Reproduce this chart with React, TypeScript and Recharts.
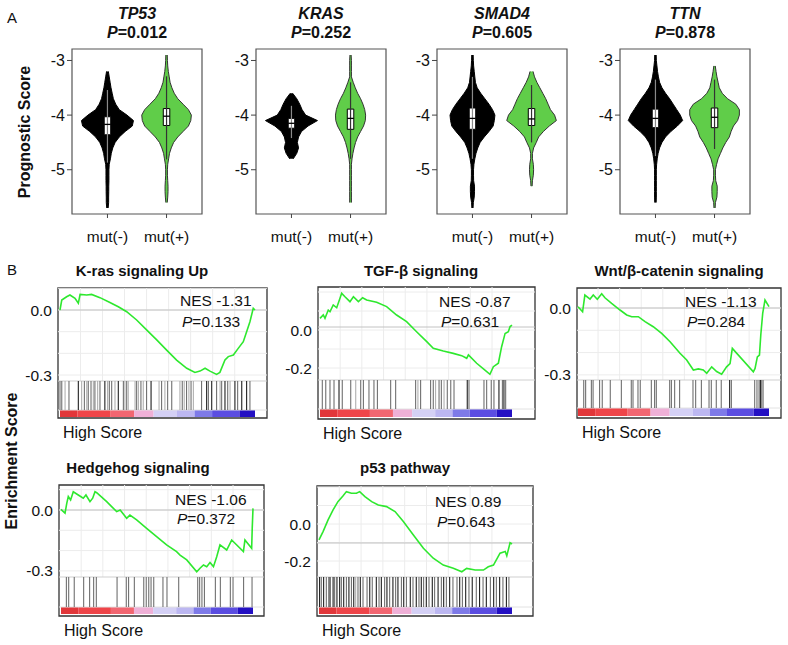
import React from 'react';
import { ComposedChart, Area, Line, XAxis, YAxis, ReferenceArea, ReferenceLine } from 'recharts';

const FONT = '"Liberation Sans", Arial, Helvetica, sans-serif';

// ---------- panel A: violins ----------
const violinLevels = [
  -2.9, -3.0, -3.1, -3.2, -3.3, -3.4, -3.5, -3.6, -3.7, -3.8, -3.9, -4.0, -4.1, -4.2, -4.3,
  -4.4, -4.5, -4.6, -4.7, -4.8, -4.9, -5.0, -5.1, -5.2, -5.3, -5.4, -5.5, -5.6, -5.7,
];
const genes = ['TP53', 'KRAS', 'SMAD4', 'TTN'];
const genePValues = ['0.012', '0.252', '0.605', '0.878'];
const groupLabels = ['mut(-)', 'mut(+)'];

// half widths of each violin at violinLevels (null = no density)
const tp53Neg = [null, null, null, 0.015, 0.03, 0.045, 0.06, 0.08, 0.1, 0.14, 0.2, 0.33, 0.44, 0.42, 0.3, 0.2, 0.13, 0.09, 0.065, 0.05, 0.03, 0.025, 0.025, 0.025, 0.022, 0.022, 0.02, 0.02, 0.012];
const tp53Pos = [0.012, 0.015, 0.02, 0.03, 0.045, 0.06, 0.09, 0.13, 0.19, 0.28, 0.37, 0.42, 0.41, 0.37, 0.28, 0.19, 0.12, 0.08, 0.05, 0.035, 0.02, 0.015, 0.015, 0.02, 0.025, 0.025, 0.02, 0.012, null];
const krasNeg = [null, null, null, null, null, null, null, 0.02, 0.09, 0.14, 0.18, 0.24, 0.44, 0.28, 0.17, 0.12, 0.1, 0.12, 0.09, 0.03, null, null, null, null, null, null, null, null, null];
const krasPos = [0.01, 0.015, 0.015, 0.015, 0.015, 0.045, 0.08, 0.12, 0.17, 0.21, 0.24, 0.255, 0.25, 0.22, 0.17, 0.12, 0.085, 0.06, 0.04, 0.025, 0.015, 0.015, 0.015, 0.015, 0.015, 0.015, 0.015, 0.015, null];
const smad4Neg = [0.012, 0.015, 0.02, 0.03, 0.04, 0.05, 0.08, 0.14, 0.21, 0.28, 0.34, 0.38, 0.37, 0.35, 0.28, 0.2, 0.13, 0.09, 0.06, 0.04, 0.025, 0.018, 0.018, 0.02, 0.035, 0.035, 0.03, 0.015, 0.01];
const smad4Pos = [null, null, null, 0.025, 0.05, 0.09, 0.14, 0.19, 0.24, 0.28, 0.32, 0.39, 0.42, 0.3, 0.2, 0.12, 0.08, 0.035, 0.015, 0.015, 0.03, 0.035, 0.03, 0.015, 0.01, null, null, null, null];
const ttnNeg = [0.012, 0.015, 0.025, 0.035, 0.05, 0.07, 0.11, 0.17, 0.24, 0.3, 0.36, 0.42, 0.46, 0.37, 0.26, 0.17, 0.11, 0.07, 0.045, 0.03, 0.02, 0.015, 0.015, 0.015, 0.015, 0.015, 0.015, 0.012, null];
const ttnPos = [null, null, 0.012, 0.025, 0.04, 0.06, 0.08, 0.13, 0.22, 0.36, 0.42, 0.42, 0.39, 0.32, 0.28, 0.25, 0.19, 0.14, 0.1, 0.06, 0.035, 0.015, 0.015, 0.02, 0.045, 0.045, 0.04, 0.015, 0.01];

// box stats: [whisker low, q1, median, q3, whisker high]
const tp53Box = [[-4.87, -4.36, -4.17, -4.03, -3.54], [-4.81, -4.19, -4.02, -3.88, -3.29]];
const krasBox = [[-4.42, -4.24, -4.15, -4.06, -3.83], [-4.8, -4.26, -4.06, -3.89, -3.4]];
const smad4Box = [[-4.8, -4.26, -4.06, -3.87, -3.3], [-4.5, -4.19, -4.07, -3.88, -3.45]];
const ttnBox = [[-4.75, -4.23, -4.06, -3.89, -3.35], [-4.62, -4.23, -4.04, -3.87, -3.35]];

const violinNeg = [tp53Neg, krasNeg, smad4Neg, ttnNeg];
const violinPos = [tp53Pos, krasPos, smad4Pos, ttnPos];
const violinBoxes = [tp53Box, krasBox, smad4Box, ttnBox];
const violinLeft = [72, 256, 437, 620];

// ---------- panel B: GSEA ----------
const gseaTitles = ['K-ras signaling Up', 'TGF-β signaling', 'Wnt/β-catenin signaling', 'Hedgehog signaling', 'p53 pathway'];
const gseaNes = ['-1.31', '-0.87', '-1.13', '-1.06', '0.89'];
const gseaP = ['0.133', '0.631', '0.284', '0.372', '0.643'];

const krasCurve = [
  [0, 0], [0.9, 0.046], [3.4, 0.061], [5.1, 0.069], [7.7, 0.054], [9.4, 0.031], [10.3, 0.072], [13.7, 0.069],
  [16.2, 0.072], [20.5, 0.057], [25.6, 0.035], [29.9, 0.015], [34.2, -0.008], [39.3, -0.046], [44.4, -0.092],
  [49.6, -0.138], [54.7, -0.185], [59.8, -0.231], [65, -0.269], [69.2, -0.288], [71.8, -0.282], [74.4, -0.269],
  [76.9, -0.282], [80.3, -0.297], [82, -0.288], [84.6, -0.231], [86.3, -0.215], [88.9, -0.208], [91.4, -0.177],
  [94, -0.146], [95.7, -0.1], [97.4, -0.054], [99.1, 0.008], [100, 0],
];
const tgfCurve = [
  [0, 0.061], [1.7, 0.079], [2.6, 0.061], [4.3, 0.105], [5.2, 0.096], [6.9, 0.132], [8.7, 0.117], [11.3, 0.193],
  [13, 0.175], [15.6, 0.149], [17.4, 0.175], [20, 0.149], [22.2, 0.17], [24.3, 0.158], [29.5, 0.146], [34.7, 0.123],
  [39.9, 0.079], [45.1, 0.044], [50.3, -0.009], [55.6, -0.061], [59, -0.096], [64.2, -0.111], [69.4, -0.123],
  [73.8, -0.135], [76.4, -0.149], [77.3, -0.131], [81.6, -0.175], [85.9, -0.211], [88.5, -0.233], [90.3, -0.193],
  [92.9, -0.175], [94.6, -0.088], [96.4, -0.018], [98.1, -0.009], [99, 0.018], [100, 0.026],
];
const wntCurve = [
  [0, 0.006], [2.4, -0.017], [3.6, 0.058], [6.3, 0.04], [8, 0.058], [10.1, 0.039], [12.4, 0.064], [14.1, 0.046],
  [17.6, 0.021], [22, -0.009], [25.5, -0.031], [28.1, -0.039], [31.6, -0.039], [35.1, -0.061], [39.4, -0.084],
  [43.8, -0.114], [48.2, -0.151], [53.4, -0.203], [56.9, -0.233], [60.4, -0.278], [63, -0.273], [65.6, -0.278],
  [67.4, -0.293], [70, -0.264], [72.6, -0.285], [75.2, -0.297], [77.8, -0.264], [79.6, -0.249], [80.8, -0.181],
  [91.8, -0.286], [92.7, -0.271], [93.9, -0.219], [95, -0.211], [95.7, -0.121], [96.7, -0.024], [97.9, 0.036], [100, 0.006],
];
const hedgehogCurve = [
  [0, 0.003], [2.1, -0.016], [3, 0.033], [3.8, 0.066], [5, 0.049], [6.4, 0.09], [9, 0.074], [11.6, 0.058],
  [13, 0.074], [15.1, 0.041], [16.5, 0.058], [17.7, 0.09], [18.6, 0.085], [23.8, 0.041], [29, -0.008], [30.8, 0],
  [34.2, -0.041], [35.9, -0.025], [39.4, -0.049], [44.6, -0.09], [49.8, -0.131], [55, -0.172], [60.2, -0.205],
  [62, -0.222], [65.5, -0.246], [70.7, -0.304], [72.4, -0.287], [74.2, -0.271], [75.9, -0.279], [77.6, -0.259],
  [79.4, -0.279], [81.1, -0.23], [82.8, -0.172], [86.3, -0.197], [88.9, -0.148], [95, -0.205], [95.8, -0.148],
  [99.3, -0.189], [99.6, -0.09], [100, 0.008],
];
const p53Curve = [
  [0, -0.086], [2.1, -0.041], [4.7, 0.022], [7.3, 0.076], [9.8, 0.121], [12.4, 0.151], [14.2, 0.175], [16.8, 0.166],
  [19.4, 0.166], [21.1, 0.175], [23.8, 0.148], [27.3, 0.121], [30.7, 0.103], [35, 0.094], [39.4, 0.067],
  [43.7, 0.013], [48.9, -0.059], [54.1, -0.131], [59.2, -0.185], [64.4, -0.222], [69.6, -0.239], [74, -0.258],
  [76.5, -0.24], [80.9, -0.249], [85.2, -0.249], [87.7, -0.231], [90.4, -0.222], [93.8, -0.158], [96.5, -0.149],
  [97.3, -0.172], [99, -0.101], [100, -0.108],
];

// hit ranks with shade (1 light .. 3 dark)
const krasHits = [
  [0, 2], [0.9, 2], [2.6, 1], [4.6, 2], [9.4, 3], [11.1, 1], [12.5, 2], [13.7, 1], [14.5, 2], [15.9, 2], [17.1, 1],
  [17.9, 2], [19.3, 1], [20.5, 2], [23, 3], [24.4, 1], [25.3, 2], [26.5, 2], [28.2, 1], [29.9, 3], [32.5, 2],
  [33.3, 1], [34.2, 2], [35, 1], [38.5, 1], [39.3, 2], [40.2, 1], [41.5, 2], [42.7, 1], [44.4, 2], [46.7, 3],
  [50.8, 1], [52.1, 2], [53.8, 1], [55.2, 2], [57.3, 2], [61.5, 1], [62.7, 2], [63.7, 1], [64.9, 2], [66.1, 1],
  [67.2, 2], [68.4, 1], [72.6, 2], [75.2, 3], [76.1, 2], [77.8, 3], [80.3, 2], [82.1, 1], [82.9, 2], [84.6, 3],
  [86, 2], [87.2, 1], [89.7, 3], [91.1, 2], [93.2, 3], [95.7, 3], [97.4, 2],
];
const tgfHits = [
  [1.2, 2], [3, 2], [5.2, 2], [7.3, 2], [9.9, 3], [11.6, 2], [16, 2], [18.6, 1], [21.2, 2], [22.6, 2], [25.5, 2],
  [28.1, 2], [29.9, 2], [36.8, 2], [39.4, 2], [49.8, 2], [51, 1], [52.4, 2], [57.6, 2], [59, 2], [60.2, 1], [62, 2],
  [63.2, 2], [64.6, 1], [66.3, 2], [68.1, 2], [69.8, 2], [76.7, 3], [77.6, 2], [85.4, 2], [86.8, 2], [89.2, 2],
  [90.6, 2], [93.2, 3], [95, 2], [95.8, 3], [96.7, 2],
];
const wntHits = [
  [3, 2], [4, 2], [7, 2], [7.9, 2], [11.3, 2], [12.7, 2], [16.9, 2], [22.7, 2], [27.9, 2], [28.8, 2], [31.4, 2],
  [32.6, 2], [38.4, 2], [40.1, 2], [41, 2], [48, 2], [48.9, 2], [50.6, 2], [53.2, 2], [60.2, 2], [61.6, 2],
  [64.6, 2], [68.6, 2], [69.8, 2], [72.4, 2], [75, 2], [79.4, 3], [80.3, 2], [92.5, 2], [93.7, 2], [94.8, 2],
  [95.5, 3], [96.2, 2], [96.9, 2],
];
const hedgehogHits = [
  [2.8, 2], [4, 2], [6.9, 2], [11.8, 2], [14.9, 2], [17, 2], [18.4, 2], [29.2, 2], [34, 2], [35.2, 2], [38.2, 2],
  [43.1, 2], [44.4, 2], [45.7, 2], [46.9, 2], [48.3, 2], [53.1, 2], [55.2, 2], [61.3, 2], [71.2, 2], [72.2, 2],
  [73.4, 2], [74.7, 2], [80.4, 2], [83, 2], [88.2, 2], [89.6, 2], [95.1, 2], [99.5, 2],
];
const p53Hits = [
  [0.3, 3], [1.2, 2], [2.4, 3], [3.8, 2], [5.2, 3], [5.9, 2], [7.3, 3], [8.1, 2], [9.3, 3], [10.7, 3], [11.6, 2],
  [12.8, 3], [14.2, 2], [15.5, 3], [16.8, 2], [18, 3], [19, 1], [20.2, 2], [21.4, 3], [22.8, 2], [24.9, 2],
  [26.3, 3], [27.6, 2], [29.7, 3], [31.1, 2], [32.3, 3], [34, 2], [35.2, 3], [36.6, 2], [38.3, 3], [39.7, 2],
  [40.9, 3], [42.7, 2], [43.9, 3], [45.3, 2], [47.3, 3], [48.7, 2], [50.4, 3], [51.8, 2], [53, 3], [54.2, 2],
  [55.6, 3], [57, 2], [58.7, 3], [59.9, 2], [61.7, 3], [63.4, 2], [64.6, 3], [66, 2], [67.7, 3], [69.4, 2],
  [71.5, 2], [72.9, 3], [74.3, 2], [76, 3], [77.7, 2], [79.4, 3], [81.5, 2], [83.2, 3], [85, 2], [86.7, 3],
  [88.8, 2], [90.5, 3], [91.9, 2], [93.6, 3], [95.3, 2], [97.1, 3], [98.4, 2],
];

// ranked-list colour bar: [from, to, colour]
const colorBands = [
  [0, 9, '#e2373a'], [9, 26, '#ef4549'], [26, 38, '#f26671'], [38, 48, '#efb0d7'], [48, 60, '#d4d0f5'],
  [60, 69, '#bcb7f1'], [69, 78, '#7e7ae8'], [78, 92, '#5b4de1'], [92, 100, '#2410c3'],
];
const gridRanks = [10.5, 21.8, 33.1, 44.4, 55.7, 67, 78.3, 89.6];

const gseaCurves = [krasCurve, tgfCurve, wntCurve, hedgehogCurve, p53Curve];
const gseaHits = [krasHits, tgfHits, wntHits, hedgehogHits, p53Hits];

// pixel layout for each GSEA panel
const gseaLayout = [
  { box: [58, 288, 267, 418], zero: 310, ppu: 216.7, gray: 310, bar: 381, colTop: 410, colBot: 417, curve: [60, 255], ticks: [0, -0.3], title: [142, 270], nes: [180, 301, 322] },
  { box: [318, 287, 535, 419], zero: 330, ppu: 190, gray: 327, bar: 380, colTop: 409, colBot: 417, curve: [320, 512], ticks: [0, -0.2], title: [421, 270], nes: [439, 302, 322] },
  { box: [577, 288, 781, 418], zero: 308, ppu: 223, gray: 308, bar: 380, colTop: 408, colBot: 416, curve: [578, 769], ticks: [0, -0.3], title: [679, 270], nes: [685, 302, 322] },
  { box: [59, 485, 264, 616], zero: 510, ppu: 203, gray: 510, bar: 577, colTop: 607, colBot: 614, curve: [61, 253], ticks: [0, -0.3], title: [138, 467], nes: [175, 500, 519] },
  { box: [317, 486, 533, 616], zero: 524, ppu: 185, gray: 543, bar: 577, colTop: 607, colBot: 614, curve: [319, 512], ticks: [0, -0.2], title: [405, 467], nes: [435, 502, 522] },
];

const shadeColor = ['#ffffff', '#b0b0b0', '#707070', '#202020'];
const GREEN = '#60cd49';
const LINE_GREEN = '#2ee82e';

function Txt({ x, y, children, anchor = 'middle', size = 15, bold = false, italic = false, rotate = false }: any) {
  const tx = anchor === 'middle' ? '-50%' : anchor === 'end' ? '-100%' : '0';
  return (
    <div
      style={{
        position: 'absolute', left: x, top: y, whiteSpace: 'nowrap', lineHeight: 1, color: '#111',
        transform: `translate(${tx}, -50%)${rotate ? ' rotate(-90deg)' : ''}`,
        fontSize: size, fontWeight: bold ? 700 : 400, fontStyle: italic ? 'italic' : 'normal',
      }}
    >
      {children}
    </div>
  );
}

const V_TOP = 49;
const V_BOTTOM = 214;
const V_WIDTH = 130;
const V_DOMAIN = [-5.81, -2.79];
const BOX_HALF = 0.055;

// one violin's outline rows, only where it has density
function violinRows(widths: (number | null)[], center: number) {
  return violinLevels
    .map((y, i) => (widths[i] == null ? null : { y, span: [center - widths[i]!, center + widths[i]!] }))
    .filter(Boolean) as { y: number; span: number[] }[];
}

function ViolinPanel({ idx }: { idx: number }) {
  const negRows = violinRows(violinNeg[idx], 1);
  const posRows = violinRows(violinPos[idx], 2);
  const AW = 32;
  const boxes = violinBoxes[idx];
  return (
    <div style={{ position: 'absolute', left: violinLeft[idx] - AW, top: V_TOP - 1 }}>
      <ComposedChart
        layout="vertical"
        width={V_WIDTH + AW + 1}
        height={V_BOTTOM - V_TOP + 1 + 44}
        data={negRows}
        margin={{ top: 1, right: 1, bottom: 0, left: 0 }}
      >
        <XAxis
          type="number"
          domain={[0.4, 2.6]}
          ticks={[1, 2]}
          tickFormatter={(v: number) => groupLabels[v - 1]}
          axisLine={false}
          tickSize={4}
          tickMargin={13}
          height={44}
          stroke="#444"
          tick={{ fontSize: 15.5, fill: '#111' }}
          allowDataOverflow
        />
        <YAxis
          type="number"
          dataKey="y"
          domain={V_DOMAIN}
          reversed
          ticks={[-3, -4, -5]}
          width={AW}
          axisLine={false}
          tickSize={5}
          tickMargin={2}
          stroke="#444"
          tick={{ fontSize: 16, fill: '#111' }}
          allowDataOverflow
        />
        <Area data={negRows} dataKey="span" type="linear" fill="#000" fillOpacity={1} stroke="#000" strokeWidth={1} isAnimationActive={false} />
        <Area data={posRows} dataKey="span" type="linear" fill={GREEN} fillOpacity={1} stroke="#333" strokeWidth={1} isAnimationActive={false} />
        {boxes.map((b, g) => {
          const c = g + 1;
          return [
            <ReferenceLine key={`w${g}`} segment={[{ x: c, y: b[0] }, { x: c, y: b[4] }]} stroke={g === 0 ? '#8a8a8a' : '#333'} strokeWidth={1.2} />,
            <ReferenceArea key={`b${g}`} x1={c - BOX_HALF} x2={c + BOX_HALF} y1={b[1]} y2={b[3]} fill="#fff" fillOpacity={1} stroke="#000" strokeWidth={1} />,
            <ReferenceLine key={`m${g}`} segment={[{ x: c - BOX_HALF, y: b[2] }, { x: c + BOX_HALF, y: b[2] }]} stroke="#000" strokeWidth={1.3} />,
          ];
        })}
        <ReferenceArea x1={0.4} x2={2.6} y1={V_DOMAIN[0]} y2={V_DOMAIN[1]} fill="none" stroke="#555" strokeWidth={1.2} />
      </ComposedChart>
    </div>
  );
}

function GseaPanel({ idx }: { idx: number }) {
  const L = gseaLayout[idx];
  const [bl, bt, br, bb] = L.box;
  const ppx = (L.curve[1] - L.curve[0]) / 100;
  const xMin = -(L.curve[0] - bl) / ppx;
  const xMax = 100 + (br - L.curve[1]) / ppx;
  const val = (px: number) => (L.zero - px) / L.ppu;
  const yTop = val(bt);
  const yBot = val(bb);
  const barTop = val(L.bar);
  const colTop = val(L.colTop);
  const colBot = val(L.colBot);
  const data = gseaCurves[idx].map(([x, es]) => ({ x, es }));
  const hGrid: number[] = [];
  for (let v = Math.ceil(barTop * 10) / 10; v < yTop; v += 0.1) hGrid.push(Number(v.toFixed(2)));
  const AW = 44;
  return (
    <div style={{ position: 'absolute', left: bl - AW, top: bt - 1 }}>
      <ComposedChart width={br - bl + AW + 1} height={bb - bt + 2} data={data} margin={{ top: 1, right: 1, bottom: 1, left: 0 }}>
        <XAxis type="number" dataKey="x" domain={[xMin, xMax]} hide allowDataOverflow />
        <YAxis
          type="number"
          domain={[yBot, yTop]}
          ticks={L.ticks}
          tickFormatter={(v: number) => v.toFixed(1)}
          width={AW}
          axisLine={false}
          tickLine={false}
          tickSize={3}
          tickMargin={3}
          tick={{ fontSize: 15.5, fill: '#111' }}
          allowDataOverflow
        />
        {gridRanks.map((r) => (
          <ReferenceLine key={`gv${r}`} segment={[{ x: r, y: barTop }, { x: r, y: yTop }]} stroke="#ececec" />
        ))}
        {hGrid.map((v) => (
          <ReferenceLine key={`gh${v}`} y={v} stroke="#ececec" />
        ))}
        <ReferenceLine y={val(L.gray)} stroke="#c2c2c2" />
        <ReferenceLine y={barTop} stroke="#cfcfcf" />
        <ReferenceLine y={colTop} stroke="#e2e2e2" />
        {gseaHits[idx].map(([r, s], i) => (
          <ReferenceLine key={`h${i}`} segment={[{ x: r, y: colTop }, { x: r, y: barTop }]} stroke={shadeColor[s]} strokeWidth={1.1} />
        ))}
        {colorBands.map(([a, b, c]) => (
          <ReferenceArea key={`c${a}`} x1={a as number} x2={b as number} y1={colBot} y2={colTop} fill={c as string} fillOpacity={1} stroke="none" />
        ))}
        <Line dataKey="es" type="linear" stroke={LINE_GREEN} strokeWidth={1.6} dot={false} isAnimationActive={false} />
        <ReferenceArea x1={xMin} x2={xMax} y1={yBot} y2={yTop} fill="none" stroke="#333" strokeWidth={1.3} />
      </ComposedChart>
    </div>
  );
}

export default function App() {
  return (
    <div style={{ position: 'absolute', left: 0, top: 0, width: 788, height: 645, background: '#fff', fontFamily: FONT, overflow: 'hidden' }}>
      <Txt x={7} y={17} anchor="start" size={15}>A</Txt>
      <Txt x={7} y={269} anchor="start" size={15}>B</Txt>
      <Txt x={25} y={132} bold size={16} rotate>Prognostic Score</Txt>
      <Txt x={12} y={461} bold size={16} rotate>Enrichment Score</Txt>

      {genes.map((g, i) => {
        const cx = violinLeft[i] + V_WIDTH / 2;
        return (
          <React.Fragment key={g}>
            <Txt x={cx} y={14} bold italic size={16}>{g}</Txt>
            <Txt x={cx} y={33} bold size={16}><i>P</i>={genePValues[i]}</Txt>
          </React.Fragment>
        );
      })}
      {genes.map((g, i) => (
        <ViolinPanel key={`v${g}`} idx={i} />
      ))}

      {gseaTitles.map((t, i) => {
        const L = gseaLayout[i];
        return (
          <React.Fragment key={t}>
            <Txt x={L.title[0]} y={L.title[1]} bold size={15}>{t}</Txt>
            <GseaPanel idx={i} />
            <Txt x={L.nes[0]} y={L.nes[1]} anchor="start" size={15.5}>NES {gseaNes[i]}</Txt>
            <Txt x={L.nes[0] + 2} y={L.nes[2]} anchor="start" size={15.5}><i>P</i>={gseaP[i]}</Txt>
            <Txt x={L.box[0] + 5} y={L.box[3] + 15} anchor="start" size={16}>High Score</Txt>
          </React.Fragment>
        );
      })}
    </div>
  );
}
